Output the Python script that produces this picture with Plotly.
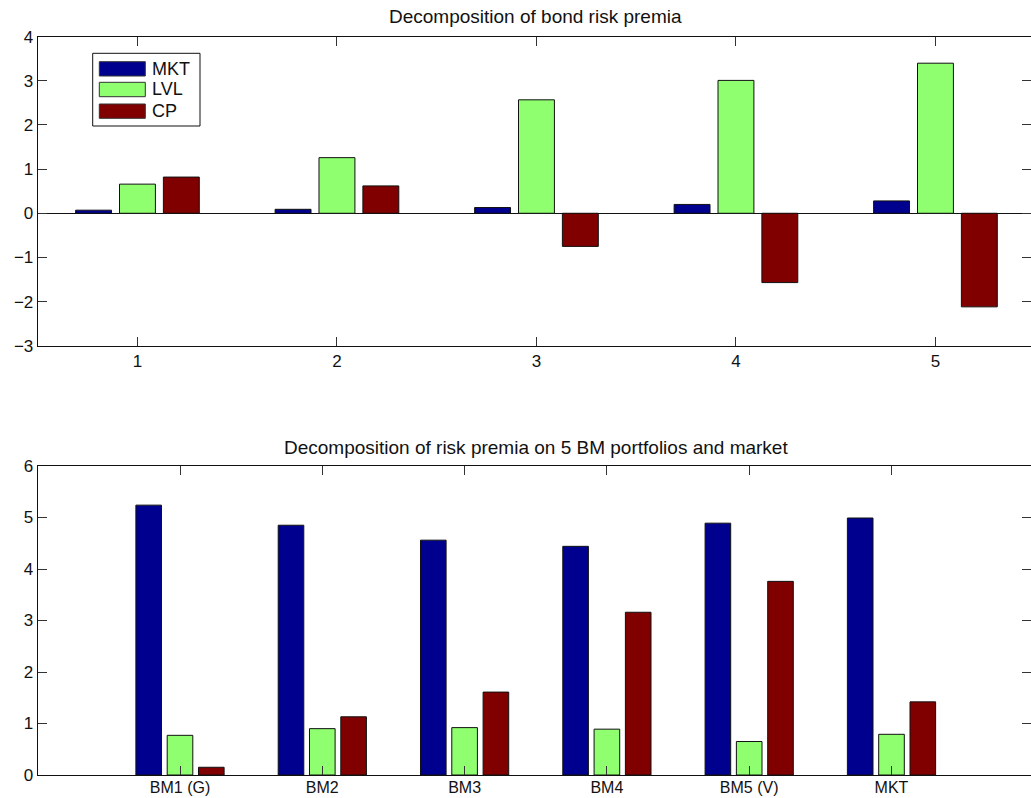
import plotly.graph_objects as go

# ---- data ----
series_names = ["MKT", "LVL", "CP"]
series_colors = ["#00008F", "#8FFF70", "#800000"]

bond_maturity = [1, 2, 3, 4, 5]
bond_mkt = [0.07, 0.09, 0.13, 0.20, 0.28]
bond_lvl = [0.66, 1.26, 2.57, 3.01, 3.40]
bond_cp = [0.82, 0.62, -0.75, -1.57, -2.12]

bm_labels = ["BM1 (G)", "BM2", "BM3", "BM4", "BM5 (V)", "MKT"]
bm_mkt = [5.24, 4.85, 4.56, 4.44, 4.89, 4.99]
bm_lvl = [0.77, 0.90, 0.92, 0.89, 0.65, 0.79]
bm_cp = [0.15, 1.13, 1.61, 3.16, 3.76, 1.42]

title_top = "Decomposition of bond risk premia"
title_bottom = "Decomposition of risk premia on 5 BM portfolios and market"

# ---- layout helpers ----
W, H = 1031, 798
FONT = "Liberation Sans, Arial, Helvetica, sans-serif"


def px(x):
    return x / W


def py(y):
    return 1 - y / H


bar_w = 0.18
offsets = [-0.22, 0.0, 0.22]

fig = go.Figure()

bm_x = list(range(1, len(bm_labels) + 1))
top_vals = [bond_mkt, bond_lvl, bond_cp]
bot_vals = [bm_mkt, bm_lvl, bm_cp]

for i, name in enumerate(series_names):
    fig.add_trace(go.Bar(
        x=bond_maturity, y=top_vals[i], name=name,
        width=bar_w, offset=offsets[i] - bar_w / 2,
        marker=dict(color=series_colors[i], line=dict(color="#111111", width=1)),
        xaxis="x", yaxis="y", showlegend=False, hoverinfo="skip",
    ))
    fig.add_trace(go.Bar(
        x=bm_x, y=bot_vals[i], name=name,
        width=bar_w, offset=offsets[i] - bar_w / 2,
        marker=dict(color=series_colors[i], line=dict(color="#111111", width=1)),
        xaxis="x2", yaxis="y2", showlegend=False, hoverinfo="skip",
    ))

left = px(37.7)
axis_common = dict(
    showline=True, linecolor="#111111", linewidth=1, mirror="ticks",
    ticks="inside", ticklen=9, tickcolor="#333333", tickwidth=1,
    showgrid=False, automargin=False,
)
tick_font = dict(family=FONT, size=17, color="#111111")

top_span = 993.3 / 199.5
bot_span = 993.3 / 142.3

fig.update_layout(
    width=W, height=H, autosize=False,
    margin=dict(l=0, r=0, t=0, b=0, pad=0),
    paper_bgcolor="white", plot_bgcolor="white",
    barmode="overlay",
    xaxis=dict(domain=[left, 1], anchor="y", range=[0.5, 0.5 + top_span],
               tickmode="array", tickvals=bond_maturity,
               ticktext=[str(v) for v in bond_maturity], zeroline=False,
               tickfont=tick_font, **axis_common),
    yaxis=dict(domain=[py(345.7), py(36.7)], anchor="x", range=[-3, 4],
               dtick=1, tick0=0, zeroline=True, zerolinecolor="#111111",
               zerolinewidth=1, tickformat="d", tickfont=tick_font, **axis_common),
    xaxis2=dict(domain=[left, 1], anchor="y2", range=[0, bot_span],
                tickmode="array", tickvals=bm_x, ticktext=bm_labels,
                zeroline=False, ticklabelstandoff=-2,
                tickfont=dict(family=FONT, size=16, color="#111111"), **axis_common),
    yaxis2=dict(domain=[py(775), py(466)], anchor="x2", range=[0, 6],
                dtick=1, tick0=0, zeroline=False, tickfont=tick_font, **axis_common),
)

# titles
fig.add_annotation(text=title_top, x=px(535.5), y=py(17), xref="paper", yref="paper",
                   showarrow=False, xanchor="center", yanchor="middle",
                   font=dict(family=FONT, size=19, color="#111111"))
fig.add_annotation(text=title_bottom, x=px(535.5), y=py(447), xref="paper", yref="paper",
                   showarrow=False, xanchor="center", yanchor="middle",
                   font=dict(family=FONT, size=19, color="#111111"))

# legend box (drawn manually to mimic MATLAB style)
fig.add_shape(type="rect", xref="paper", yref="paper",
              x0=px(92.7), x1=px(200), y0=py(126), y1=py(53.3),
              line=dict(color="#111111", width=1), fillcolor="white")
sw_rows = [(61.7, 76), (82.3, 96.7), (104, 118.3)]
for i, name in enumerate(series_names):
    y0, y1 = sw_rows[i]
    fig.add_shape(type="rect", xref="paper", yref="paper",
                  x0=px(99.3), x1=px(145.3), y0=py(y1), y1=py(y0),
                  line=dict(color="#333333", width=1), fillcolor=series_colors[i])
    fig.add_annotation(text=name, x=px(150), y=py((y0 + y1) / 2), xref="paper", yref="paper",
                       showarrow=False, xanchor="left", yanchor="middle",
                       font=dict(family=FONT, size=18, color="#111111"))

fig.write_html(
    "out.html",
    config={"displayModeBar": False},
    post_script="document.body.style.margin='0';document.body.style.overflow='hidden';",
)
